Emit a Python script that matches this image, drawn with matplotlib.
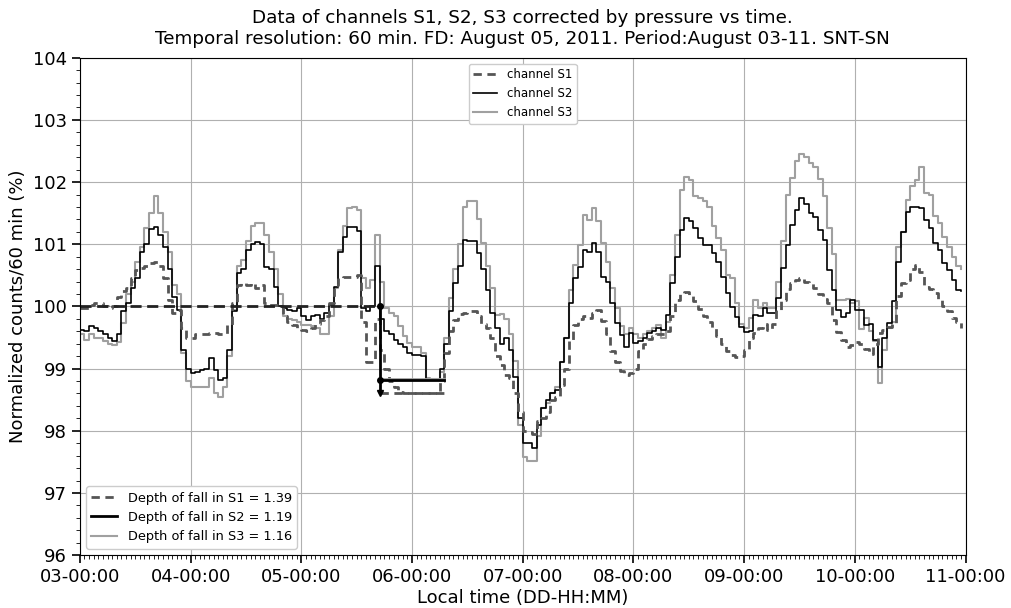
import numpy as np
import pandas as pd
import matplotlib
matplotlib.use("Agg")
import matplotlib.pyplot as plt
import matplotlib.dates as mdates
from matplotlib.ticker import MultipleLocator
from matplotlib.lines import Line2D

# hourly values, 2011-08-03 00:00 .. 2011-08-10 23:00
s1 = [
    99.97, 99.98, 100.02, 100.05, 100.05, 100.00, 99.98, 100.00, 100.15, 100.25, 100.30, 100.45,
    100.58, 100.62, 100.65, 100.70, 100.72, 100.65, 100.45, 100.10, 99.90, 99.95, 99.65, 99.50,
    99.50, 99.55, 99.55, 99.55, 99.57, 99.57, 99.55, 99.55, 99.70, 100.05, 100.35, 100.37,
    100.35, 100.37, 100.30, 100.35, 100.05, 100.03, 100.03, 100.00, 99.85, 99.75, 99.70, 99.65,
    99.62, 99.60, 99.65, 99.72, 99.78, 99.85, 100.05, 100.35, 100.45, 100.48, 100.48, 100.48,
    100.50, 99.75, 99.10, 99.10, 99.80, 99.30, 99.00, 98.80, 98.70, 98.62, 98.61, 98.61,
    98.61, 98.61, 98.61, 98.61, 98.61, 98.61, 98.80, 99.25, 99.60, 99.78, 99.88, 99.90,
    99.93, 99.93, 99.85, 99.72, 99.65, 99.50, 99.20, 99.05, 98.90, 98.85, 98.60, 98.30,
    98.00, 97.98, 97.95, 98.15, 98.20, 98.30, 98.50, 98.55, 98.73, 99.00, 99.45, 99.70,
    99.80, 99.84, 99.82, 99.90, 99.95, 99.77, 99.56, 99.28, 99.10, 98.96, 98.90, 98.93,
    99.00, 99.28, 99.40, 99.47, 99.52, 99.55, 99.55, 99.60, 99.85, 100.10, 100.21, 100.24,
    100.18, 100.08, 99.96, 99.85, 99.75, 99.65, 99.52, 99.40, 99.28, 99.22, 99.19, 99.20,
    99.30, 99.50, 99.57, 99.65, 99.72, 99.62, 99.72, 99.94, 100.10, 100.28, 100.38, 100.43,
    100.45, 100.40, 100.37, 100.30, 100.20, 100.12, 100.05, 99.78, 99.59, 99.46, 99.35, 99.38,
    99.43, 99.40, 99.32, 99.24, 99.40, 99.57, 99.62, 99.67, 99.73, 100.16, 100.37, 100.43,
    100.61, 100.67, 100.56, 100.32, 100.28, 100.21, 100.10, 100.00, 99.92, 99.81, 99.75, 99.65,
]
s2 = [
    99.62, 99.60, 99.68, 99.65, 99.60, 99.55, 99.50, 99.45, 99.55, 99.92, 100.05, 100.30,
    100.45, 100.88, 101.00, 101.25, 101.28, 101.15, 100.95, 100.60, 100.15, 99.95, 99.30, 99.00,
    98.93, 98.95, 98.97, 99.00, 99.17, 98.97, 98.82, 98.85, 99.30, 99.92, 100.53, 100.60,
    100.90, 101.00, 101.03, 101.00, 100.64, 100.60, 100.32, 100.00, 99.97, 99.95, 99.93, 99.97,
    99.84, 99.78, 99.85, 99.87, 99.80, 99.90, 100.03, 100.32, 100.88, 101.12, 101.28, 101.28,
    101.22, 99.97, 99.93, 100.00, 100.65, 99.79, 99.60, 99.55, 99.46, 99.40, 99.35, 99.25,
    99.22, 99.22, 99.20, 98.82, 98.82, 98.82, 99.00, 99.40, 99.92, 100.37, 100.65, 101.07,
    101.05, 101.05, 100.86, 100.60, 100.27, 99.90, 99.66, 99.40, 99.50, 99.30, 98.87, 98.20,
    97.80, 97.80, 97.72, 98.09, 98.36, 98.49, 98.60, 98.65, 99.11, 99.49, 100.05, 100.46,
    100.64, 100.91, 100.88, 101.02, 100.88, 100.48, 100.40, 100.05, 99.73, 99.54, 99.35, 99.57,
    99.41, 99.45, 99.49, 99.58, 99.60, 99.65, 99.62, 99.86, 100.38, 100.80, 101.23, 101.42,
    101.37, 101.26, 101.10, 100.99, 100.99, 100.86, 100.72, 100.48, 100.21, 99.99, 99.83, 99.67,
    99.59, 99.60, 99.86, 99.84, 99.97, 99.89, 99.90, 100.14, 100.62, 100.99, 101.31, 101.55,
    101.75, 101.65, 101.50, 101.44, 101.23, 101.07, 100.59, 100.26, 99.94, 99.83, 99.89, 100.10,
    99.94, 99.94, 99.70, 99.72, 99.46, 99.03, 99.49, 99.73, 100.08, 100.72, 101.20, 101.52,
    101.60, 101.60, 101.58, 101.39, 101.26, 101.02, 100.91, 100.70, 100.59, 100.43, 100.26, 100.25,
]
s3 = [
    99.55, 99.46, 99.55, 99.50, 99.50, 99.45, 99.40, 99.38, 99.42, 99.73, 100.20, 100.40,
    100.72, 100.95, 101.26, 101.50, 101.77, 101.50, 101.20, 100.88, 100.35, 100.20, 99.25, 98.80,
    98.71, 98.71, 98.71, 98.71, 98.85, 98.60, 98.55, 98.70, 99.20, 99.95, 100.65, 100.75,
    101.05, 101.30, 101.34, 101.34, 101.15, 100.88, 100.60, 100.20, 99.85, 99.80, 99.78, 99.75,
    99.70, 99.70, 99.68, 99.65, 99.55, 99.55, 99.85, 100.30, 100.90, 101.30, 101.58, 101.60,
    101.55, 100.45, 100.30, 100.42, 101.15, 100.40, 99.97, 99.90, 99.84, 99.68, 99.52, 99.41,
    99.35, 99.35, 99.25, 98.85, 98.83, 98.83, 98.95, 99.50, 100.13, 100.60, 101.00, 101.60,
    101.69, 101.69, 101.40, 101.02, 100.65, 100.30, 99.86, 99.88, 99.80, 99.56, 99.13, 98.10,
    97.58, 97.52, 97.52, 97.92, 98.36, 98.45, 98.60, 98.70, 99.11, 99.50, 100.26, 100.67,
    100.99, 101.47, 101.39, 101.58, 101.37, 101.02, 100.72, 100.30, 99.98, 99.68, 99.55, 99.65,
    99.55, 99.50, 99.55, 99.60, 99.65, 99.70, 99.50, 99.75, 100.50, 101.15, 101.87, 102.09,
    102.03, 101.78, 101.75, 101.70, 101.60, 101.30, 101.10, 100.90, 100.50, 100.45, 100.05, 99.72,
    99.65, 99.82, 100.10, 99.98, 100.05, 99.97, 99.97, 100.40, 101.05, 101.80, 102.06, 102.34,
    102.45, 102.40, 102.30, 102.25, 102.05, 101.78, 101.26, 100.85, 100.10, 100.10, 100.12, 100.05,
    100.08, 99.63, 99.82, 99.60, 99.45, 98.77, 99.30, 99.65, 99.75, 100.96, 101.20, 101.71,
    101.93, 102.03, 102.25, 101.82, 101.80, 101.45, 101.35, 101.12, 100.96, 100.80, 100.65, 100.60,
]

# depth of fall markers
fd_time = "2011-08-05 17:00"
min_time = "2011-08-06 07:00"
depth = {"S1": 1.39, "S2": 1.19, "S3": 1.16}

t = pd.date_range("2011-08-03", periods=len(s1), freq="h")
t0, t_fd, t_min = pd.Timestamp("2011-08-03"), pd.Timestamp(fd_time), pd.Timestamp(min_time)

fig = plt.figure(figsize=(10.11, 6.08), dpi=100)
ax = fig.add_axes([0.079, 0.087, 0.876, 0.818])

l3, = ax.plot(t, s3, color="#a0a0a0", lw=1.5, drawstyle="steps-post", label="channel S3")
l2, = ax.plot(t, s2, color="black", lw=1.2, drawstyle="steps-post", label="channel S2")
l1, = ax.plot(t, s1, color="#555555", lw=2, ls=(0, (3, 2)), drawstyle="steps-post", label="channel S1")

# depth of fall
ax.plot([t0, t_fd], [100, 100], color="#222222", lw=2, ls=(0, (4, 2)))
ax.plot([t_fd, t_min], [100 - depth["S3"]] * 2, color="#a0a0a0", lw=2)
ax.plot([t_fd, t_min], [100 - depth["S1"]] * 2, color="#555555", lw=2, ls=(0, (3, 2)))
ax.plot([t_fd, t_min], [100 - depth["S2"]] * 2, color="black", lw=2)
ax.plot([t_fd, t_fd], [100, 100 - depth["S1"]], color="black", lw=2)
ax.plot([t_fd, t_fd], [100, 100 - depth["S2"]], "o", color="black", ms=4)
ax.plot([t_fd], [100 - depth["S1"]], "v", color="black", ms=5)

leg1 = ax.legend(handles=[l1, l2, l3], loc="upper center", fontsize=8.5, framealpha=1,
                 bbox_to_anchor=(0.5, 1.0))
ax.add_artist(leg1)
h = [Line2D([], [], color="#555555", lw=2, ls=(0, (3, 2))),
     Line2D([], [], color="black", lw=2),
     Line2D([], [], color="#a0a0a0", lw=1.5)]
ax.legend(h, ["Depth of fall in S%d = %.2f" % (i + 1, depth["S%d" % (i + 1)]) for i in range(3)],
          loc="lower left", fontsize=9.3, framealpha=1)

ax.set_xlim(t0, pd.Timestamp("2011-08-11"))
ax.set_ylim(96, 104)
ax.xaxis.set_major_locator(mdates.DayLocator())
ax.xaxis.set_major_formatter(mdates.DateFormatter("%d-%H:%M"))
ax.xaxis.set_minor_locator(mdates.HourLocator())
ax.yaxis.set_major_locator(MultipleLocator(1))
ax.yaxis.set_minor_locator(MultipleLocator(0.2))
ax.tick_params(which="major", labelsize=13, length=6, width=1.2)
ax.tick_params(which="minor", length=3)
ax.grid(True, which="major", color="#b0b0b0", lw=0.8)

ax.set_xlabel("Local time (DD-HH:MM)", fontsize=13, labelpad=2)
ax.set_ylabel("Normalized counts/60 min (%)", fontsize=13)
ax.set_title("Data of channels S1, S2, S3 corrected by pressure vs time.\n"
             "Temporal resolution: 60 min. FD: August 05, 2011. Period:August 03-11. SNT-SN",
             fontsize=13.2, pad=10)

fig.savefig("out.png", dpi=100)
